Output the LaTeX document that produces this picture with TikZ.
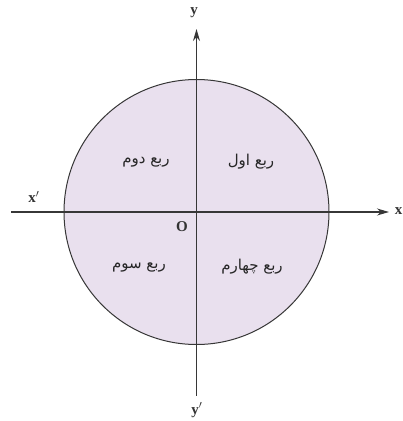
\documentclass[tikz,border=0pt]{standalone}
\usepackage{fontspec}
\setmainfont{Liberation Serif}
\newfontfamily\arabicfont[Script=Arabic]{DejaVu Sans}
\TeXXeTstate=1
\usetikzlibrary{arrows.meta}
\definecolor{discfill}{RGB}{233,224,238}
\definecolor{axiscol}{RGB}{55,55,55}
\begin{document}
\begin{tikzpicture}[x=1pt,y=-1pt,
  axis/.style={draw=axiscol,line width=1.1pt},
  arr/.style={-{Stealth[length=12pt,width=7pt]}},
  quad/.style={font=\arabicfont\fontsize{15}{17}\selectfont,text=black!85},
  lab/.style={font=\fontsize{15}{16}\selectfont\bfseries,text=black!80,inner sep=0pt}]
\useasboundingbox (0,0) rectangle (403,421);
\coordinate (O) at (196.5,212);
\draw[fill=discfill,draw=axiscol,line width=1pt] (O) circle (132.5);
\coordinate (xl) at (11,212);
\coordinate (xr) at (389,212);
\coordinate (yt) at (196.5,29);
\coordinate (yb) at (196.5,396);
\draw[axis] (xl) -- (O);
\draw[axis,arr] (O) -- (xr);
\draw[axis,arr] (O) -- (yt);
\draw[axis] (O) -- (yb);
\node[lab,anchor=east] (xlab) at (402.5,211) {x};
\node[lab] (xplab) at (34,197) {x$'$};
\node[lab] (ylab) at (194,13) {y};
\node[lab] (yplab) at (197,410) {y$'$};
\node[lab] (olab) at (182,227) {O};
\node[quad] (q1) at (251,162) {\beginR ربع اول\endR};
\node[quad] (q2) at (146,162) {\beginR ربع دوم\endR};
\node[quad] (q3) at (139,267) {\beginR ربع سوم\endR};
\node[quad] (q4) at (252,267) {\beginR ربع چهارم\endR};
\end{tikzpicture}
\end{document}
